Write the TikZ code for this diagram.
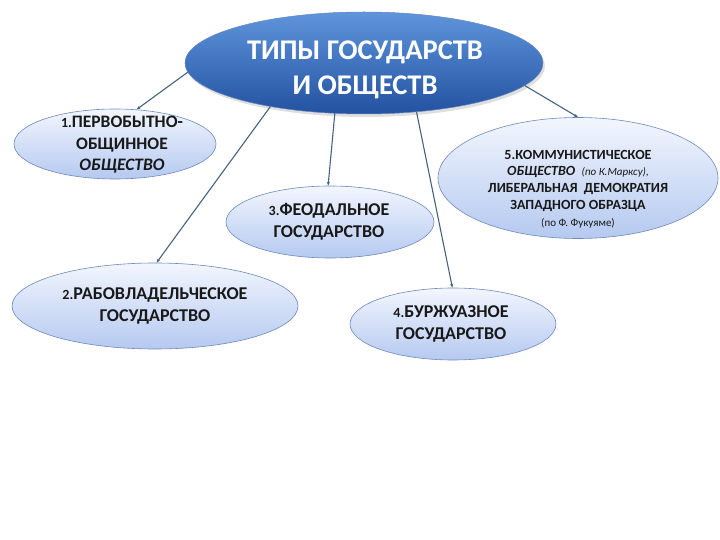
\documentclass[tikz,border=0pt]{standalone}
\usepackage{fontspec}
\setmainfont{Carlito}
\usepackage{xcolor}
\usetikzlibrary{shapes.geometric, arrows.meta, shadows}

\definecolor{rootlight}{HTML}{5F95DC}
\definecolor{rootdark}{HTML}{2352A0}
\definecolor{leaftop}{HTML}{F2F6FE}
\definecolor{leafbottom}{HTML}{B5C9F0}
\definecolor{leafline}{HTML}{7089BC}
\definecolor{linkline}{HTML}{46627F}

\begin{document}
\begin{tikzpicture}[x=1pt, y=-1pt,
            root/.style={ellipse, inner sep=0pt, top color=rootlight, bottom color=rootdark, draw=rootdark!70!white, line width=0.5pt, drop shadow={opacity=0.25, shadow xshift=2pt, shadow yshift=-3pt}},
            leaf/.style={ellipse, inner sep=0pt, top color=leaftop, bottom color=leafbottom, draw=leafline, line width=0.6pt},
            roottext/.style={align=center, text=white, font=\bfseries\fontsize{28.5}{35}\selectfont},
            leaftext/.style={align=center, text=black!90, font=\bfseries\fontsize{18}{21.5}\selectfont},
            link/.style={-{Stealth[length=4pt, width=3pt]}, linkline, line width=1.1pt}
        ]
\useasboundingbox (0,0) rectangle (720,540);

% Root
            \node[root, minimum width=358pt, minimum height=102pt] (types) at (364,63) {};
            \node[roottext] (typestxt) at (365,70) {ТИПЫ ГОСУДАРСТВ\\И ОБЩЕСТВ};

% Types
            \node[leaf, minimum width=202pt, minimum height=70pt] (primitive) at (115,144) {};
            \node[leaftext, font=\bfseries\fontsize{17.5}{21.5}\selectfont] (primitivetxt) at (122,145) {{\fontsize{14}{15}\selectfont 1.}ПЕРВОБЫТНО-\\ОБЩИННОЕ\\\textit{ОБЩЕСТВО}};

            \node[leaf, minimum width=286pt, minimum height=86pt] (slave) at (155,306) {};
            \node[leaftext] (slavetxt) at (155,306) {{\fontsize{14}{15}\selectfont 2.}РАБОВЛАДЕЛЬЧЕСКОЕ\\ГОСУДАРСТВО};

            \node[leaf, minimum width=208pt, minimum height=72pt] (feudal) at (330,222) {};
            \node[leaftext] (feudaltxt) at (329,222) {{\fontsize{14}{15}\selectfont 3.}ФЕОДАЛЬНОЕ\\ГОСУДАРСТВО};

            \node[leaf, minimum width=206pt, minimum height=72pt] (bourgeois) at (453,324) {};
            \node[leaftext] (bourgeoistxt) at (451,324) {{\fontsize{14}{15}\selectfont 4.}БУРЖУАЗНОЕ\\ГОСУДАРСТВО};

            \node[leaf, minimum width=280pt, minimum height=121pt] (communist) at (578,178) {};
            \node[leaftext, font=\bfseries\fontsize{14}{16.8}\selectfont] (communisttxt) at (578,189) {5.КОММУНИСТИЧЕСКОЕ\\\textit{ОБЩЕСТВО}\ \ {\mdseries\itshape\fontsize{11}{12}\selectfont (по К.Марксу),}\\ЛИБЕРАЛЬНАЯ\ \ ДЕМОКРАТИЯ\\ЗАПАДНОГО ОБРАЗЦА\\{\mdseries\fontsize{11}{12}\selectfont (по Ф. Фукуяме)}};

% Links
            \draw[link] (types.183) -- (primitive.58);
            \draw[link] (types.205) -- (slave.88);
            \draw[link] (types.240) -- (feudal.93);
            \draw[link] (types.317) -- (bourgeois.91);
            \draw[link] (types.352) -- (communist.90);

        \end{tikzpicture}
\end{document}
